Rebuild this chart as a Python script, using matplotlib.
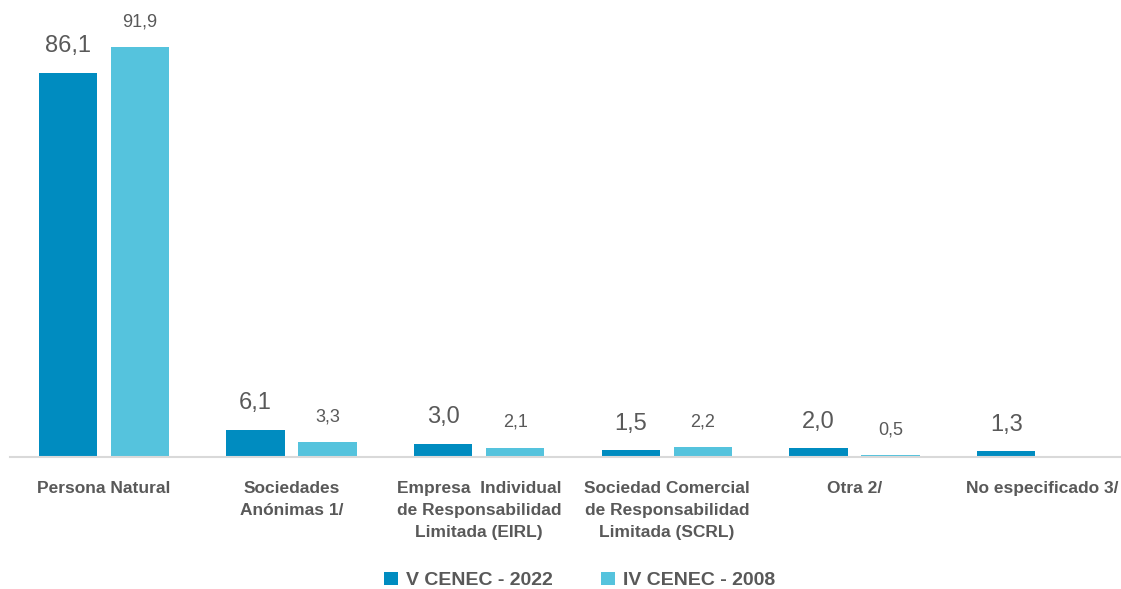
import numpy as np
import matplotlib.pyplot as plt

categorias = ['Persona Natural', 'Sociedades\nAnónimas 1/',
              'Empresa  Individual\nde Responsabilidad\nLimitada (EIRL)',
              'Sociedad Comercial\nde Responsabilidad\nLimitada (SCRL)',
              'Otra 2/', 'No especificado 3/']
v_2022 = [86.1, 6.1, 3.0, 1.5, 2.0, 1.3]
iv_2008 = [91.9, 3.3, 2.1, 2.2, 0.5, np.nan]
series = ['V CENEC - 2022', 'IV CENEC - 2008']

plt.rcParams['font.family'] = ['Liberation Sans Narrow', 'Liberation Sans', 'DejaVu Sans']
gris = '#595959'
c1, c2 = '#008CC0', '#55C3DD'

fig = plt.figure(figsize=(11.21, 5.89), dpi=100)
ax = fig.add_axes([10/1121, 132/589, 1 - 10/1121, 457/589])

x = np.arange(len(categorias))
w = 0.31
off = 0.192
b1 = ax.bar(x - off, v_2022, w, color=c1, label=series[0])
b2 = ax.bar(x + off, iv_2008, w, color=c2, label=series[1])

for rect, v in zip(b1, v_2022):
    ax.annotate(f'{v:.1f}'.replace('.', ','), (rect.get_x() + rect.get_width()/2, v),
                xytext=(0, 11), textcoords='offset points', ha='center', va='bottom',
                fontsize=17, color=gris)
for rect, v in zip(b2, iv_2008):
    if np.isnan(v):
        continue
    ax.annotate(f'{v:.1f}'.replace('.', ','), (rect.get_x() + rect.get_width()/2, v),
                xytext=(0, 12), textcoords='offset points', ha='center', va='bottom',
                fontsize=13, color=gris)

ax.set_xlim(-0.5, 5.42)
ax.set_ylim(0, 102.4)
ax.set_xticks(x)
ax.set_xticklabels(categorias, fontsize=12.5, fontweight='bold', color=gris, linespacing=1.6, va='top')
ax.tick_params(axis='x', length=0, pad=17)
ax.set_yticks([])
for s in ['top', 'right', 'left']:
    ax.spines[s].set_visible(False)
ax.spines['bottom'].set_color('#D9D9D9')
ax.spines['bottom'].set_linewidth(1.5)

leg = fig.legend(loc='lower center', bbox_to_anchor=(0.517, -0.03), ncol=2, frameon=False,
                 handlelength=0.7, handleheight=0.7, handletextpad=0.4, columnspacing=2.5,
                 prop={'size': 14, 'weight': 'bold'})
for t in leg.get_texts():
    t.set_color(gris)

plt.savefig('out.png')
